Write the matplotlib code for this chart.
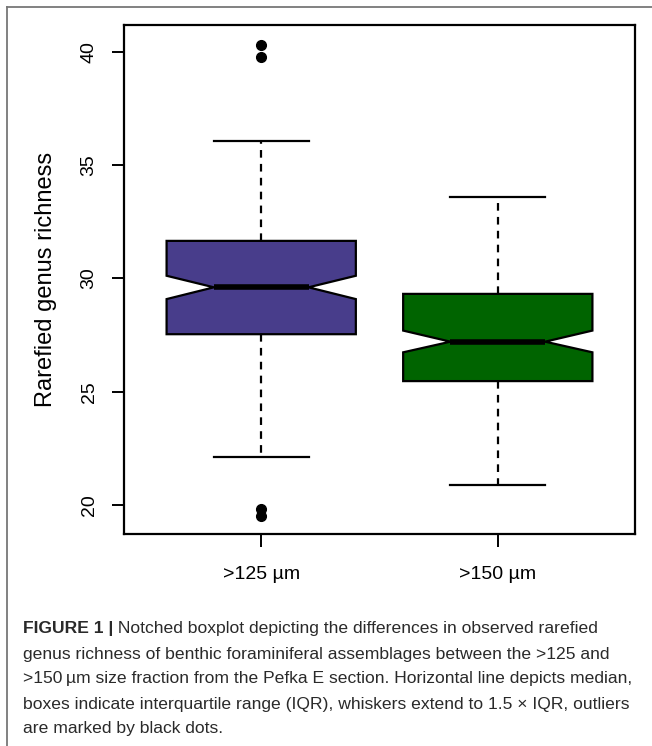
import numpy as np
import matplotlib
matplotlib.use('Agg')
import matplotlib.pyplot as plt
from matplotlib.lines import Line2D

plt.rcParams['font.family'] = ['Liberation Sans', 'DejaVu Sans']
plt.rcParams['lines.scale_dashes'] = False

# box statistics
groups = ['>125 µm', '>150 µm']
medians = [29.61, 27.21]
q1s = [27.54, 25.47]
q3s = [31.66, 29.32]
whis_lo = [22.13, 20.88]
whis_hi = [36.07, 33.58]
notch_lo = [29.09, 26.74]
notch_hi = [30.12, 27.70]
outliers = [[40.31, 39.79, 19.83, 19.52], []]
colors = ['#483D8B', '#006400']

caption_bold = 'FIGURE 1 |'
caption_lines = [
    ' Notched boxplot depicting the differences in observed rarefied',
    'genus richness of benthic foraminiferal assemblages between the >125 and',
    '>150\u2009µm size fraction from the Pefka E section. Horizontal line depicts median,',
    'boxes indicate interquartile range (IQR), whiskers extend to 1.5 \u00d7 IQR, outliers',
    'are marked by black dots.',
]

W, H = 652, 746
fig = plt.figure(figsize=(W / 100, H / 100), dpi=100)
ax = fig.add_axes([124 / W, 1 - 534 / H, (635 - 124) / W, (534 - 25) / H])

stats = []
for i in range(len(groups)):
    stats.append(dict(med=medians[i], q1=q1s[i], q3=q3s[i],
                      whislo=whis_lo[i], whishi=whis_hi[i],
                      cilo=notch_lo[i], cihi=notch_hi[i],
                      fliers=outliers[i], label=groups[i]))

pos = np.arange(1, len(groups) + 1)
bp = ax.bxp(stats, positions=pos, widths=0.8, shownotches=True,
            patch_artist=True,
            boxprops=dict(edgecolor='black', linewidth=1.6),
            medianprops=dict(color='black', linewidth=4.0, solid_capstyle='butt'),
            whiskerprops=dict(color='black', linewidth=1.6, linestyle=(0, (5.5, 4.5))),
            capprops=dict(color='black', linewidth=1.6),
            flierprops=dict(marker='o', markerfacecolor='black',
                            markeredgecolor='black', markersize=7))
for patch, c in zip(bp['boxes'], colors):
    patch.set_facecolor(c)

ax.set_xlim(0.42, 2.58)
ax.set_ylim(18.72, 41.19)
ax.set_xticks(pos)
ax.set_xticklabels(groups, fontsize=14)
ax.set_yticks([20, 25, 30, 35, 40])
ax.set_yticklabels(['20', '25', '30', '35', '40'], fontsize=14,
                   rotation=90, va='center')
ax.tick_params(axis='both', length=9, width=1.4, direction='out')
ax.tick_params(axis='y', pad=10)
ax.tick_params(axis='x', pad=14)
for s in ax.spines.values():
    s.set_linewidth(1.6)
ax.set_ylabel('Rarefied genus richness', fontsize=17, va='center')
ax.yaxis.set_label_coords((46 - 124) / 511, 0.5)

# outer frame of the figure panel
fig.add_artist(Line2D([7 / W, 7 / W], [0, 1 - 7 / H], color='#777777',
                      linewidth=1.3, transform=fig.transFigure))
fig.add_artist(Line2D([7 / W, 1], [1 - 7 / H, 1 - 7 / H], color='#777777',
                      linewidth=1.3, transform=fig.transFigure))

# caption
tc = '#2a2a2a'
fs = 12.6
x0 = 23 / W
y_first = 629
dy = 25
renderer = fig.canvas.get_renderer()
tb = fig.text(x0, 1 - y_first / H, caption_bold, fontsize=fs, fontweight='bold',
              color=tc, va='center', ha='left')
bb = tb.get_window_extent(renderer=renderer)
for k, line in enumerate(caption_lines):
    if k == 0:
        fig.text(bb.x1 / W, 1 - y_first / H, line, fontsize=fs, color=tc,
                 va='center', ha='left')
    else:
        fig.text(x0, 1 - (y_first + k * dy) / H, line, fontsize=fs, color=tc,
                 va='center', ha='left')

fig.savefig('out.png', dpi=100)
